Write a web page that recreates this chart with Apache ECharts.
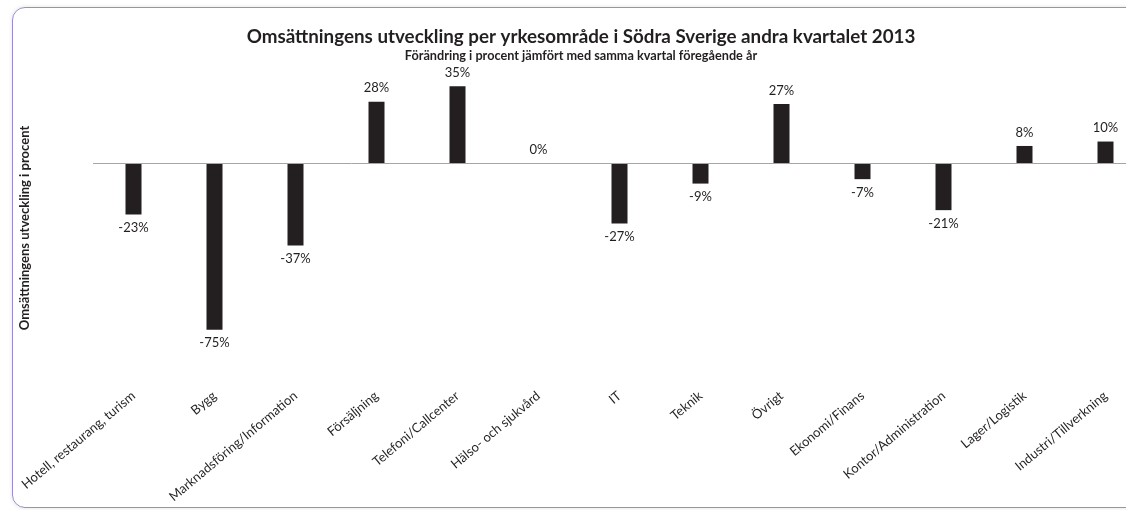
<!DOCTYPE html>
<html>
<head>
<meta charset="utf-8">
<script src="https://cdn.jsdelivr.net/npm/echarts@6/dist/echarts.min.js"></script>
<style>
  html, body { margin: 0; padding: 0; background: #fff; overflow: hidden; }
  #frame {
    position: absolute; left: 12px; top: 7px; width: 1140px; height: 499px;
    border: 1px solid #9c8bcf; border-radius: 13px;
    box-shadow: 0 0 4px rgba(0,0,0,0.12);
  }
  #chart { position: absolute; left: 0; top: 0; width: 1126px; height: 510px; }
</style>
</head>
<body>
<div id="frame"></div>
<div id="chart"></div>
<script>
(function () {
  var categories = [
    'Hotell, restaurang, turism', 'Bygg', 'Marknadsföring/Information', 'Försäljning',
    'Telefoni/Callcenter', 'Hälso- och sjukvård', 'IT', 'Teknik', 'Övrigt',
    'Ekonomi/Finans', 'Kontor/Administration', 'Lager/Logistik', 'Industri/Tillverkning'
  ];
  var change = [-23, -75, -37, 28, 35, 0, -27, -9, 27, -7, -21, 8, 10];

  var font = 'Lato, "Open Sans", sans-serif';
  var ink = '#231f20';

  var chart = echarts.init(document.getElementById('chart'), null, { renderer: 'canvas' });
  chart.setOption({
    animation: false,
    title: {
      text: 'Omsättningens utveckling per yrkesområde i Södra Sverige andra kvartalet 2013',
      subtext: 'Förändring i procent jämfört med samma kvartal föregående år',
      left: 576,
      textAlign: 'center',
      top: 22,
      itemGap: 3,
      textStyle: { fontFamily: font, fontSize: 18.8, fontWeight: 'bold', color: ink },
      subtextStyle: { fontFamily: font, fontSize: 12.7, fontWeight: 'bold', color: ink }
    },
    grid: { left: 93, width: 1053, top: 53, bottom: 125, outerBoundsMode: 'none' },
    xAxis: {
      type: 'category',
      data: categories,
      axisLine: { show: false },
      axisTick: { show: false },
      axisLabel: {
        interval: 0,
        rotate: 40,
        margin: 9,
        fontFamily: font,
        fontSize: 13,
        color: ink
      }
    },
    yAxis: {
      type: 'value',
      min: -100,
      max: 50,
      name: 'Omsättningens utveckling i procent',
      nameLocation: 'middle',
      nameGap: 62,
      nameTextStyle: {
        fontFamily: font, fontSize: 13, fontWeight: 'bold', color: ink,
        padding: [0, 18, 0, 0]
      },
      axisLine: { show: false },
      axisTick: { show: false },
      axisLabel: { show: false },
      splitLine: { show: false }
    },
    series: [{
      type: 'bar',
      barWidth: 16,
      itemStyle: { color: ink },
      data: change.map(function (v) {
        return { value: v, label: { position: v < 0 ? 'bottom' : 'top' } };
      }),
      label: {
        show: true,
        distance: 7,
        fontFamily: font,
        fontSize: 13,
        color: ink,
        formatter: function (p) { return p.value + '%'; }
      },
      markLine: {
        silent: true,
        symbol: 'none',
        label: { show: false },
        lineStyle: { color: '#a6a6a6', width: 1, type: 'solid' },
        data: [{ yAxis: 0 }]
      }
    }]
  });
})();
</script>
</body>
</html>
